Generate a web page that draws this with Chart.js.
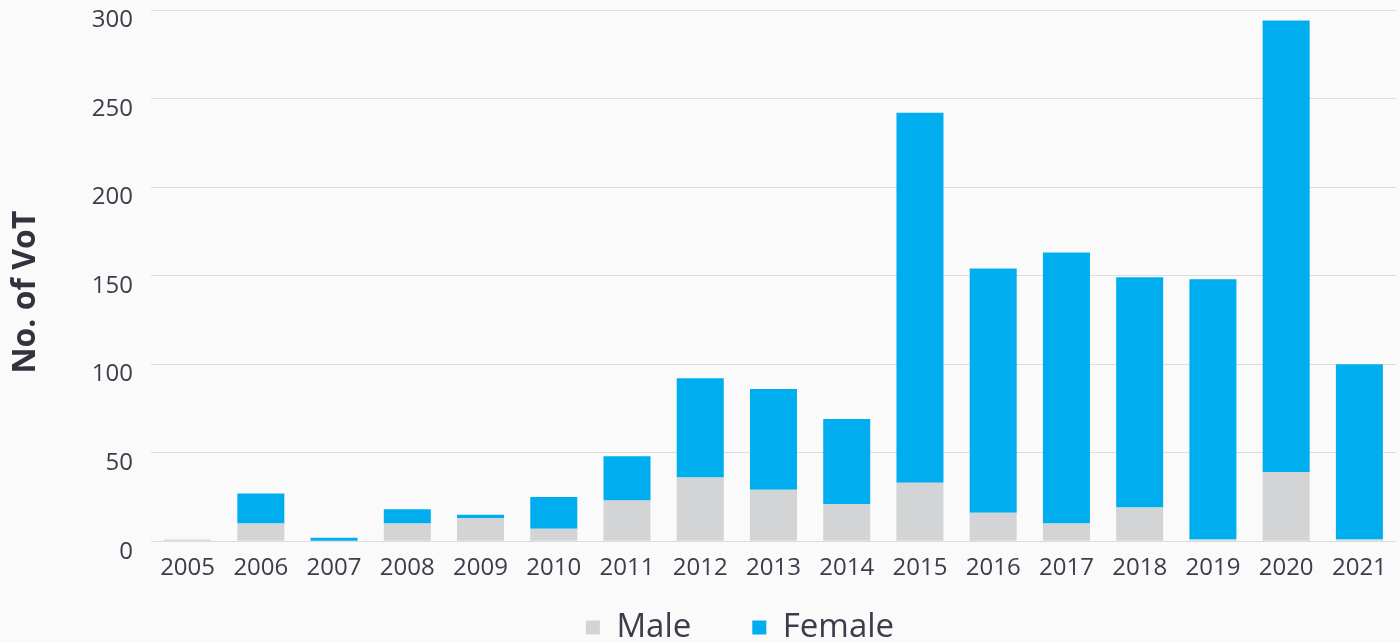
<!DOCTYPE html>
<html>
<head>
<meta charset="utf-8">
<script src="https://cdn.jsdelivr.net/npm/chart.js@4/dist/chart.umd.min.js"></script>
<style>
  html, body { margin: 0; padding: 0; background: #fafafa; overflow: hidden; width: 1400px; height: 643px; }
  #wrap { position: relative; width: 1400px; height: 700px; }
</style>
</head>
<body>
<div id="wrap"><canvas id="c"></canvas></div>
<script>
// ---- data ----
const years = ['2005','2006','2007','2008','2009','2010','2011','2012','2013','2014','2015','2016','2017','2018','2019','2020','2021'];
const maleVoT   = [1, 10, 0, 10, 13, 7, 23, 36, 29, 21, 33, 16, 10, 19, 1, 39, 1];
const femaleVoT = [0, 17, 2, 8, 2, 18, 25, 56, 57, 48, 209, 138, 153, 130, 147, 255, 99];
const seriesNames = ['Male', 'Female'];
const yAxisTitle = 'No. of VoT';
const yMin = 0, yMax = 300, yStep = 50;

// ---- styling ----
const FONT = "'Open Sans', 'Noto Sans', sans-serif";
const TEXT = '#3c3d4a';

const layoutTweaks = {
  id: 'layoutTweaks',
  afterLayout(chart) {
    const lg = chart.legend;
    if (lg) {
      const w = lg.right - lg.left, h = lg.bottom - lg.top;
      const cx = 740;
      lg.left = cx - w / 2; lg.right = cx + w / 2;
      lg.top = 550; lg.bottom = lg.top + h;
    }
    const ys = chart.scales.y;
    if (ys && !ys._titleShifted) {
      const orig = ys.drawTitle;
      ys.drawTitle = function () {
        const t = this.top, b = this.bottom;
        this.top += 16.5; this.bottom += 16.5;
        orig.call(this);
        this.top = t; this.bottom = b;
      };
      ys._titleShifted = true;
    }
  }
};

new Chart(document.getElementById('c'), {
  type: 'bar',
  data: {
    labels: years,
    datasets: [
      { label: seriesNames[0], data: maleVoT, backgroundColor: '#d3d4d6', hoverBackgroundColor: '#d3d4d6', stack: 's' },
      { label: seriesNames[1], data: femaleVoT, backgroundColor: '#00aeef', hoverBackgroundColor: '#00aeef', stack: 's' }
    ]
  },
  options: {
    responsive: true,
    maintainAspectRatio: false,
    animation: false,
    layout: { padding: { left: 0, right: 4, top: 10, bottom: 0 } },
    datasets: { bar: { categoryPercentage: 1, barPercentage: 0.642, borderWidth: 0 } },
    plugins: {
      legend: {
        position: 'bottom',
        labels: { boxWidth: 14, boxHeight: 14, padding: 61, color: TEXT, font: { family: FONT, size: 33 } }
      },
      tooltip: { enabled: false }
    },
    scales: {
      x: {
        stacked: true,
        grid: { display: false, drawTicks: false },
        border: { display: false },
        ticks: { color: TEXT, padding: 13, maxRotation: 0, autoSkip: false, font: { family: FONT, size: 24, lineHeight: 1.2 } }
      },
      y: {
        stacked: true,
        min: yMin, max: yMax,
        grid: { color: '#dcdcdc', drawTicks: true, tickLength: 18, tickColor: 'rgba(0,0,0,0)', lineWidth: 1 },
        border: { display: false },
        ticks: { stepSize: yStep, padding: 0, labelOffset: 10.5, color: TEXT, font: { family: FONT, size: 24, lineHeight: 0.8 } },
        title: {
          display: true, text: yAxisTitle, color: '#333340',
          font: { family: FONT, size: 32, weight: 'bold', lineHeight: 1.2 },
          padding: { top: 6.4, bottom: 47 }
        }
      }
    }
  },
  plugins: [layoutTweaks]
});
</script>
</body>
</html>
